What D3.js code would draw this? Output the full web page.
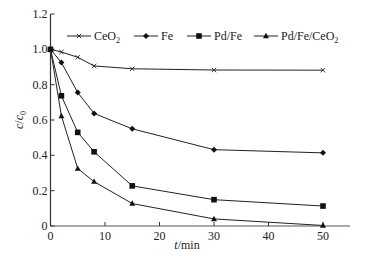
<!DOCTYPE html>
<html><head><meta charset="utf-8">
<script src="https://cdn.jsdelivr.net/npm/d3@7"></script>
<style>body{margin:0;background:#fff}svg{display:block}text{font-family:"Liberation Serif","Times New Roman",serif}</style>
</head><body><svg id="c" width="366" height="256"></svg>
<script>
const times = [0, 2, 5, 8, 15, 30, 50];
const ceo2 = [1.0, 0.985, 0.955, 0.906, 0.89, 0.883, 0.882];
const fe = [1.0, 0.925, 0.755, 0.637, 0.55, 0.432, 0.414];
const pdfe = [1.0, 0.737, 0.53, 0.42, 0.227, 0.149, 0.113];
const pdfeceo2 = [1.0, 0.623, 0.325, 0.251, 0.127, 0.04, 0.003];
const xTicks = [0, 10, 20, 30, 40, 50];
const yTicks = [0, 0.2, 0.4, 0.6, 0.8, 1.0, 1.2];
const seriesNames = [["CeO", "2"], ["Fe", ""], ["Pd/Fe", ""], ["Pd/Fe/CeO", "2"]];
const markers = ["x", "diamond", "square", "triangle"];

const svg = d3.select("#c");
const x = d3.scaleLinear().domain([0, 50]).range([50.5, 323]);
const y = d3.scaleLinear().domain([0, 1.2]).range([226, 14]);
const xEnd = 350;

const g = svg.append("g");
g.append("line").attr("x1", x(0)).attr("x2", xEnd).attr("y1", y(0)).attr("y2", y(0)).attr("stroke", "#555").attr("stroke-width", 1.2);
g.append("line").attr("x1", x(0)).attr("x2", x(0)).attr("y1", y(0)).attr("y2", y(1.2)).attr("stroke", "#333").attr("stroke-width", 1.2);
xTicks.forEach(t => {
  g.append("line").attr("x1", x(t)).attr("x2", x(t)).attr("y1", y(0)).attr("y2", y(0) - 4).attr("stroke", "#333");
  g.append("text").attr("x", x(t)).attr("y", y(0) + 14).attr("text-anchor", "middle").attr("font-size", 12).attr("fill", "#222").text(t);
});
yTicks.forEach(v => {
  g.append("line").attr("x1", x(0)).attr("x2", x(0) + 4).attr("y1", y(v)).attr("y2", y(v)).attr("stroke", "#333");
  g.append("text").attr("x", x(0) - 3).attr("y", y(v) + 4).attr("text-anchor", "end").attr("font-size", 12).attr("fill", "#222").text(v === 0 ? "0" : v.toFixed(1));
});
const yl = svg.append("text").attr("transform", `translate(23,120) rotate(-90)`).attr("text-anchor", "middle").attr("font-size", 12).attr("fill", "#222");
yl.append("tspan").attr("font-style", "italic").text("c");
yl.append("tspan").text("/");
yl.append("tspan").attr("font-style", "italic").text("c");
yl.append("tspan").attr("font-size", 8).attr("dy", 3).text("0");
const xl = svg.append("text").attr("x", 187).attr("y", 249).attr("text-anchor", "middle").attr("font-size", 12).attr("fill", "#222");
xl.append("tspan").attr("font-style", "italic").text("t");
xl.append("tspan").text("/min");

function drawMarker(sel, type, cx, cy) {
  if (type === "x") {
    sel.append("path").attr("d", `M${cx-2.2},${cy-2.2}L${cx+2.2},${cy+2.2}M${cx-2.2},${cy+2.2}L${cx+2.2},${cy-2.2}`).attr("stroke", "#222").attr("stroke-width", 0.9);
  } else if (type === "diamond") {
    sel.append("path").attr("d", `M${cx},${cy-3}L${cx+3},${cy}L${cx},${cy+3}L${cx-3},${cy}Z`).attr("fill", "#111");
  } else if (type === "square") {
    sel.append("rect").attr("x", cx - 2.8).attr("y", cy - 2.8).attr("width", 5.6).attr("height", 5.6).attr("fill", "#111");
  } else {
    sel.append("path").attr("d", `M${cx},${cy-3.2}L${cx+3},${cy+2.2}L${cx-3},${cy+2.2}Z`).attr("fill", "#111");
  }
}

const allSeries = [ceo2, fe, pdfe, pdfeceo2];
const line = d3.line().x((d, i) => x(times[i])).y(d => y(d));
allSeries.forEach((s, k) => {
  svg.append("path").datum(s).attr("d", line).attr("fill", "none").attr("stroke", "#222").attr("stroke-width", 1);
  const mg = svg.append("g");
  s.forEach((v, i) => drawMarker(mg, markers[k], x(times[i]), y(v)));
});

const legX = [67, 134, 187, 254];
const legY = 36;
seriesNames.forEach((n, k) => {
  const lg = svg.append("g");
  lg.append("line").attr("x1", legX[k]).attr("x2", legX[k] + 24).attr("y1", legY).attr("y2", legY).attr("stroke", "#222");
  drawMarker(lg, markers[k], legX[k] + 12, legY);
  const t = lg.append("text").attr("x", legX[k] + 27).attr("y", legY + 4).attr("font-size", 12).attr("fill", "#222");
  t.append("tspan").text(n[0]);
  if (n[1]) t.append("tspan").attr("font-size", 8).attr("dy", 3).text(n[1]);
});
</script></body></html>
